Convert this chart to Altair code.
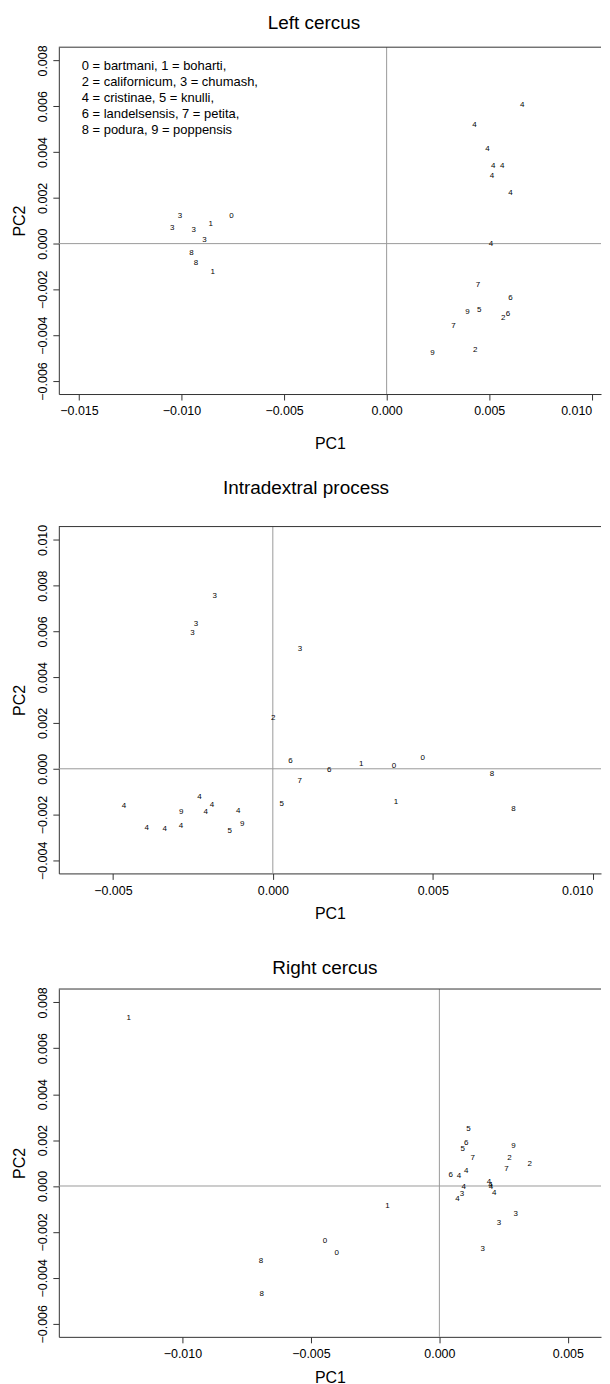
import altair as alt
import pandas as pd

FONT = "Liberation Sans"

LEGEND_LINES = [
    "0 = bartmani, 1 = boharti,",
    "2 = californicum, 3 = chumash,",
    "4 = cristinae, 5 = knulli,",
    "6 = landelsensis, 7 = petita,",
    "8 = podura, 9 = poppensis",
]

TITLES = ["Left cercus", "Intradextral process", "Right cercus"]

# ---- Left cercus ----
LC_LAB = ["4", "4", "4", "4", "4", "4", "4", "4",
          "7", "6", "9", "5", "2", "6", "7", "2", "9",
          "3", "0", "1", "3", "3", "3", "8", "8", "1"]
LC_PC1 = [0.00661, 0.00428, 0.00492, 0.00519, 0.00564, 0.00513, 0.00604, 0.00509,
          0.00445, 0.00604, 0.00394, 0.00451, 0.00568, 0.00591, 0.00326, 0.00432, 0.00223,
          -0.01008, -0.00756, -0.00858, -0.01045, -0.00941, -0.00888, -0.00951, -0.00930, -0.00848]
LC_PC2 = [0.00607, 0.00516, 0.00413, 0.00338, 0.00339, 0.00294, 0.00219, -0.00003,
          -0.00180, -0.00236, -0.00299, -0.00291, -0.00326, -0.00307, -0.00361, -0.00465, -0.00480,
          0.00122, 0.00120, 0.00086, 0.00070, 0.00061, 0.00017, -0.00039, -0.00084, -0.00123]

# ---- Intradextral process ----
ID_LAB = ["3", "3", "3", "3", "2", "6", "6", "1", "0", "0", "8", "7", "5", "1", "8",
          "4", "4", "4", "9", "4", "4", "4", "4", "4", "9", "5"]
ID_PC1 = [-0.00182, -0.00240, -0.00251, 0.00085, 0.00001, 0.00055, 0.00176, 0.00276, 0.00379,
          0.00469, 0.00685, 0.00084, 0.00028, 0.00385, 0.00752,
          -0.00465, -0.00229, -0.00190, -0.00286, -0.00210, -0.00108, -0.00394, -0.00338,
          -0.00287, -0.00096, -0.00135]
ID_PC2 = [0.00754, 0.00632, 0.00591, 0.00522, 0.00223, 0.00036, -0.00004, 0.00019, 0.00012,
          0.00048, -0.00022, -0.00052, -0.00152, -0.00145, -0.00174,
          -0.00161, -0.00123, -0.00157, -0.00188, -0.00190, -0.00183, -0.00259, -0.00262,
          -0.00248, -0.00241, -0.00272]

# ---- Right cercus ----
RC_LAB = ["1", "1", "0", "0", "8", "8",
          "5", "6", "5", "9", "7", "2", "2", "7", "6", "4", "4",
          "4", "3", "4", "4", "4", "4", "4", "3", "3", "3"]
RC_PC1 = [-0.01209, -0.00202, -0.00445, -0.00400, -0.00694, -0.00691,
          0.00113, 0.00104, 0.00091, 0.00288, 0.00130, 0.00273, 0.00352, 0.00261, 0.00044,
          0.00076, 0.00104,
          0.00095, 0.00088, 0.00070, 0.00193, 0.00199, 0.00201, 0.00213,
          0.00297, 0.00232, 0.00169]
RC_PC2 = [0.00732, -0.00087, -0.00241, -0.00293, -0.00328, -0.00470,
          0.00249, 0.00188, 0.00161, 0.00174, 0.00120, 0.00120, 0.00096, 0.00076, 0.00050,
          0.00045, 0.00064,
          -0.00003, -0.00036, -0.00058, 0.00016, 0.00003, -0.00003, -0.00032,
          -0.00123, -0.00159, -0.00275]

W = 544


def panel(title, lab, pc1, pc2, xdom, ydom, xticks, yticks, t_x, t_y, height,
          x_title_pad, legend=False, top_space=None):
    df = pd.DataFrame({"lab": lab, "PC1": pc1, "PC2": pc2})
    xenc = alt.X("PC1:Q",
                 scale=alt.Scale(domain=xdom, nice=False, zero=False),
                 axis=alt.Axis(values=xticks, format=".3f", title="PC1",
                               titlePadding=x_title_pad, labelPadding=5, labelFlush=10))
    yenc = alt.Y("PC2:Q",
                 scale=alt.Scale(domain=ydom, nice=False, zero=False),
                 axis=alt.Axis(values=yticks, format=".3f", title="PC2",
                               labelAngle=-90, labelAlign="center", labelBaseline="bottom",
                               labelPadding=3, titlePadding=9))
    vdf = pd.DataFrame({"PC1": [0.0]})
    hdf = pd.DataFrame({"PC2": [0.0]})
    vline = alt.Chart(vdf).mark_rule(color="#9a9a9a", strokeWidth=1).encode(x=xenc)
    hline = alt.Chart(hdf).mark_rule(color="#9a9a9a", strokeWidth=1).encode(y=yenc)
    top = alt.Chart(vdf).mark_rule(color="#333333", strokeWidth=1).encode(
        x=alt.value(0), x2=alt.value(W), y=alt.value(0))
    pts = alt.Chart(df).mark_text(font=FONT, fontSize=8, color="black", opacity=0.99,
                                  align="center", baseline="middle").encode(
        x=xenc, y=yenc, text="lab:N")
    tdf = pd.DataFrame({"t": [title]})
    ttl = alt.Chart(tdf).mark_text(font=FONT, fontSize=19, color="black",
                                   align="center", baseline="alphabetic").encode(
        x=alt.value(t_x), y=alt.value(t_y), text="t:N")
    layers = [vline, hline, top, pts, ttl]
    if legend:
        ldf = pd.DataFrame({"t": ["\n".join(LEGEND_LINES)]})
        leg = alt.Chart(ldf).mark_text(font=FONT, fontSize=13, color="black",
                                       align="left", baseline="middle",
                                       lineBreak="\n", lineHeight=16).encode(
            x=alt.value(23), y=alt.value(19), text="t:N")
        layers.append(leg)
    if top_space is not None:
        # invisible spacer that reserves extra room above the panel
        spacer = alt.Chart(vdf).mark_rule(opacity=0).encode(
            x=alt.value(0), x2=alt.value(10), y=alt.value(top_space))
        layers.append(spacer)
    return alt.layer(*layers).properties(width=W, height=height)


p1 = panel(TITLES[0], LC_LAB, LC_PC1, LC_PC2,
           [-0.01598, 0.01045], [-0.00657, 0.00858],
           [-0.015, -0.01, -0.005, 0.0, 0.005, 0.01],
           [-0.006, -0.004, -0.002, 0.0, 0.002, 0.004, 0.006, 0.008],
           256, -18.3, 348, 18, legend=True)
p2 = panel(TITLES[1], ID_LAB, ID_PC1, ID_PC2,
           [-0.00669, 0.01026], [-0.00457, 0.01058],
           [-0.005, 0.0, 0.005, 0.01],
           [-0.004, -0.002, 0.0, 0.002, 0.004, 0.006, 0.008, 0.01],
           248, -32.5, 348, 9)
p3 = panel(TITLES[2], RC_LAB, RC_PC1, RC_PC2,
           [-0.01481, 0.00629], [-0.00657, 0.00858],
           [-0.01, -0.005, 0.0, 0.005],
           [-0.006, -0.004, -0.002, 0.0, 0.002, 0.004, 0.006, 0.008],
           267, -15, 349, 9, top_space=-40)

chart = alt.vconcat(p1, p2, p3, spacing=27).properties(
    padding={"left": 3, "top": 3, "right": 0, "bottom": 0}
).configure_view(strokeOpacity=0).configure_axis(
    labelFont=FONT, labelFontSize=12.5, labelColor="black",
    titleFont=FONT, titleFontSize=16, titleFontWeight="normal", titleColor="black",
    tickColor="#333333", domainColor="#333333", tickSize=6, grid=False,
    labelFlush=False, labelOverlap=False
)

chart.save("out.html", embed_options={"renderer": "svg", "actions": False})
